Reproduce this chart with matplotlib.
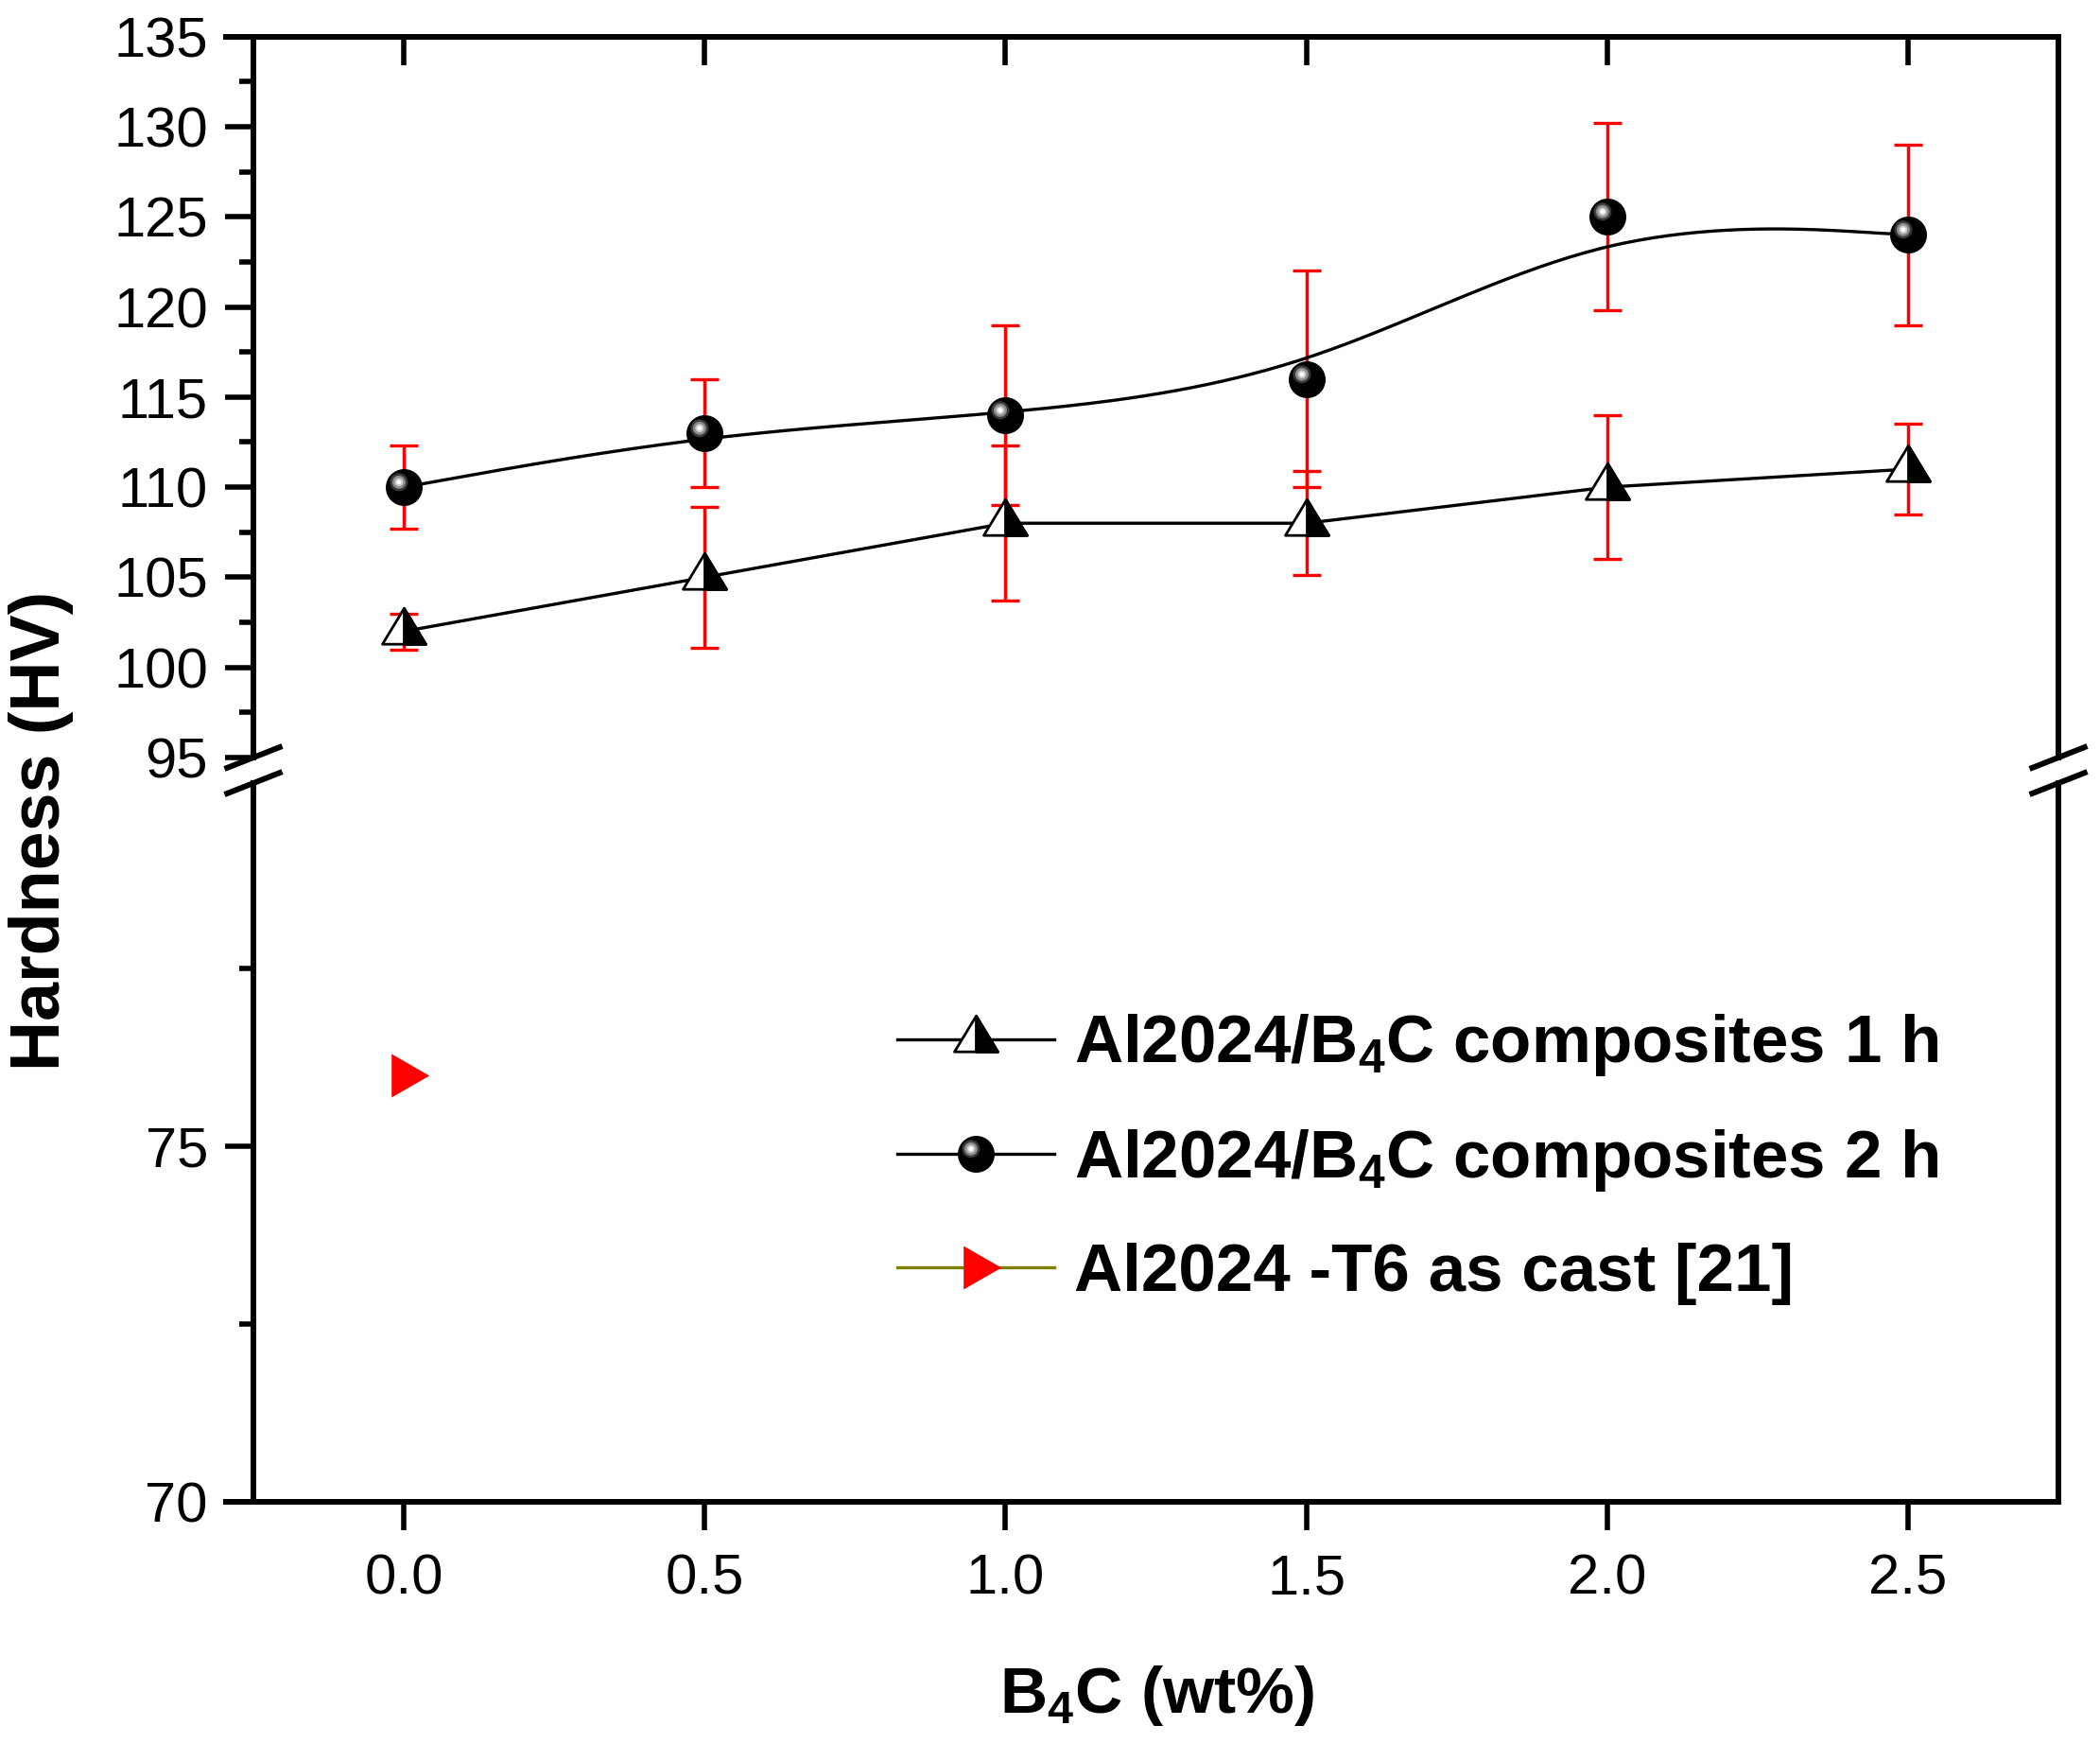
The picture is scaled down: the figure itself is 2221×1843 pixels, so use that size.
import numpy as np
import matplotlib
matplotlib.use('Agg')
import matplotlib.pyplot as plt
from matplotlib.path import Path
from matplotlib.lines import Line2D
from matplotlib.legend_handler import HandlerTuple

plt.rcParams['font.family'] = ['Liberation Sans', 'DejaVu Sans']
plt.rcParams['mathtext.fontset'] = 'custom'
plt.rcParams['mathtext.rm'] = 'Liberation Sans'
plt.rcParams['mathtext.bf'] = 'Liberation Sans:bold'

# data
bc_wt = [0.0, 0.5, 1.0, 1.5, 2.0, 2.5]
hv_1h = [102, 105, 108, 108, 110, 111]
err_1h = [1.0, 3.9, 4.3, 2.9, 4.0, 2.5]
hv_2h = [110, 113, 114, 116, 125, 124]
err_2h = [2.3, 3.0, 5.0, 6.0, 5.2, 5.0]
t6_x = [0.0]
t6_hv = [76]

labels = ['Al2024/B$_\\mathbf{4}$C composites 1 h',
          'Al2024/B$_\\mathbf{4}$C composites 2 h',
          'Al2024 -T6 as cast [21]']

DPI = 100
PT = DPI / 72.0


def px_marker(verts=None, path=None):
    # marker path given in pixels -> (path, markersize in points)
    if path is None:
        path = Path(verts, closed=True)
    scale = np.max(np.abs(path.vertices))
    return path, 2 * scale / PT


def bspline(xs, ys, n=40):
    # uniform cubic B-spline, ends clamped (Origin "B-spline" connect)
    px = np.r_[xs[0], xs[0], xs, xs[-1], xs[-1]]
    py = np.r_[ys[0], ys[0], ys, ys[-1], ys[-1]]
    t = np.linspace(0, 1, n)
    b = [(1 - t) ** 3 / 6, (3 * t ** 3 - 6 * t ** 2 + 4) / 6,
         (-3 * t ** 3 + 3 * t ** 2 + 3 * t + 1) / 6, t ** 3 / 6]
    cx, cy = [], []
    for i in range(len(px) - 3):
        cx.append(sum(b[k] * px[i + k] for k in range(4)))
        cy.append(sum(b[k] * py[i + k] for k in range(4)))
    return np.concatenate(cx), np.concatenate(cy)


# marker shapes (pixels)
tri_full, tri_ms = px_marker([(0, 25.3), (-23, -12.7), (23, -12.7), (0, 25.3)])
tri_half, _ = px_marker([(0, 25.3), (0, -12.7), (23, -12.7), (0, 25.3)])
red_tri, red_ms = px_marker([(-13.3, 23), (-13.3, -23), (26.7, 0), (-13.3, 23)])
sphere = [
    (px_marker(path=Path.circle((0, 0), 19.5)), 'black'),
    (px_marker(path=Path.circle((-5.6, 5.7), 9.5)), '#3a3a3a'),
    (px_marker(path=Path.circle((-5.6, 5.7), 7.0)), '#8c8c8c'),
    (px_marker(path=Path.circle((-5.6, 5.7), 4.5)), '#c8c8c8'),
    (px_marker(path=Path.circle((-5.6, 5.7), 2.5)), 'white'),
]

fig = plt.figure(figsize=(22.21, 18.43), dpi=DPI)
ax_top = fig.add_axes([0.1076, 0.5654, 0.8726, 0.4136])
ax_bot = fig.add_axes([0.1076, 0.1384, 0.8726, 0.4123])

XMIN, XMAX, XSPINE = -0.2956, 2.75, -0.25
for ax in (ax_top, ax_bot):
    ax.set_xlim(XMIN, XMAX)
    ax.spines['left'].set_position(('data', XSPINE))
    for s in ax.spines.values():
        s.set_linewidth(4.3)
    ax.tick_params(axis='y', which='both', direction='out', width=4,
                   labelsize=43, pad=13, right=False)
    ax.tick_params(axis='y', which='major', length=21.6)
    ax.tick_params(axis='y', which='minor', length=10.8)
    ax.set_xticks(bc_wt)
    ax.xaxis.set_minor_locator(matplotlib.ticker.NullLocator())

ax_top.set_ylim(95, 135)
ax_top.set_yticks(np.arange(95, 136, 5))
ax_top.set_yticks(np.arange(97.5, 135, 5), minor=True)
ax_top.spines['bottom'].set_visible(False)
ax_top.tick_params(axis='x', which='both', bottom=False, top=True,
                   labelbottom=False, direction='in', length=21.6, width=4)

ax_bot.set_ylim(70, 80.1)
ax_bot.set_yticks([70, 75])
ax_bot.set_yticks([72.5, 77.5], minor=True)
ax_bot.spines['top'].set_visible(False)
ax_bot.tick_params(axis='x', which='both', bottom=True, top=False,
                   direction='out', length=21.6, width=4, labelsize=43, pad=18)
ax_bot.set_xticklabels(['%.1f' % v for v in bc_wt])

# error bars
for hv, err in ((hv_1h, err_1h), (hv_2h, err_2h)):
    ax_top.errorbar(bc_wt, hv, yerr=err, fmt='none', ecolor='red',
                    elinewidth=2.5, capsize=11, capthick=2.4, zorder=2)

# connecting lines
ax_top.plot(bc_wt, hv_1h, color='black', lw=2.4, zorder=3)
sx, sy = bspline(bc_wt, hv_2h)
ax_top.plot(sx, sy, color='black', lw=2.4, zorder=3)

# markers
ax_top.plot(bc_wt, hv_1h, ls='none', marker=tri_full, ms=tri_ms,
            mfc='white', mec='black', mew=2, zorder=4)
ax_top.plot(bc_wt, hv_1h, ls='none', marker=tri_half, ms=tri_ms,
            mfc='black', mec='black', mew=2, zorder=5)
for i, ((mk, ms), col) in enumerate(sphere):
    ax_top.plot(bc_wt, hv_2h, ls='none', marker=mk, ms=ms,
                mfc=col, mew=0, zorder=4 + i)
ax_bot.plot(t6_x, t6_hv, ls='none', marker=red_tri, ms=red_ms,
            mfc='red', mew=0, zorder=4)

# break marks
inv = fig.transFigure.inverted()
dx, dy = 30.5 / 2221, 12 / 1843
for ax, yv in ((ax_top, 95), (ax_bot, 80.1)):
    for xv in (XSPINE, XMAX):
        cx, cy = inv.transform(ax.transData.transform((xv, yv)))
        fig.add_artist(Line2D([cx - dx, cx + dx], [cy - dy, cy + dy],
                              transform=fig.transFigure, color='black',
                              lw=4.3, solid_capstyle='butt'))

# legend
h1 = (Line2D([], [], color='black', lw=2.4, marker=tri_full, ms=tri_ms,
             mfc='white', mec='black', mew=2),
      Line2D([], [], ls='none', marker=tri_half, ms=tri_ms,
             mfc='black', mec='black', mew=2))
h2 = tuple([Line2D([], [], color='black', lw=2.4)] +
           [Line2D([], [], ls='none', marker=mk, ms=ms, mfc=col, mew=0)
            for (mk, ms), col in sphere])
h3 = Line2D([], [], color='#808000', lw=2.4, marker=red_tri, ms=red_ms,
            mfc='red', mew=0)
fig.legend([h1, h2, h3], labels, loc='center left',
           bbox_to_anchor=(0.4273, 0.3353), frameon=False,
           prop={'weight': 'bold', 'size': 51}, handlelength=2.34,
           handletextpad=0.3, labelspacing=0.73, borderpad=0,
           borderaxespad=0,
           handler_map={tuple: HandlerTuple(ndivide=1, pad=0)})

# axis titles
fig.text(0.0198, 0.5236, 'Hardness (HV)', rotation=90, ha='center',
         va='center', fontsize=53, fontweight='bold')
fig.text(0.551, 0.0174, 'B$_\\mathbf{4}$C (wt%)', ha='center',
         va='baseline', fontsize=50, fontweight='bold')

fig.savefig('out.png', dpi=DPI)
